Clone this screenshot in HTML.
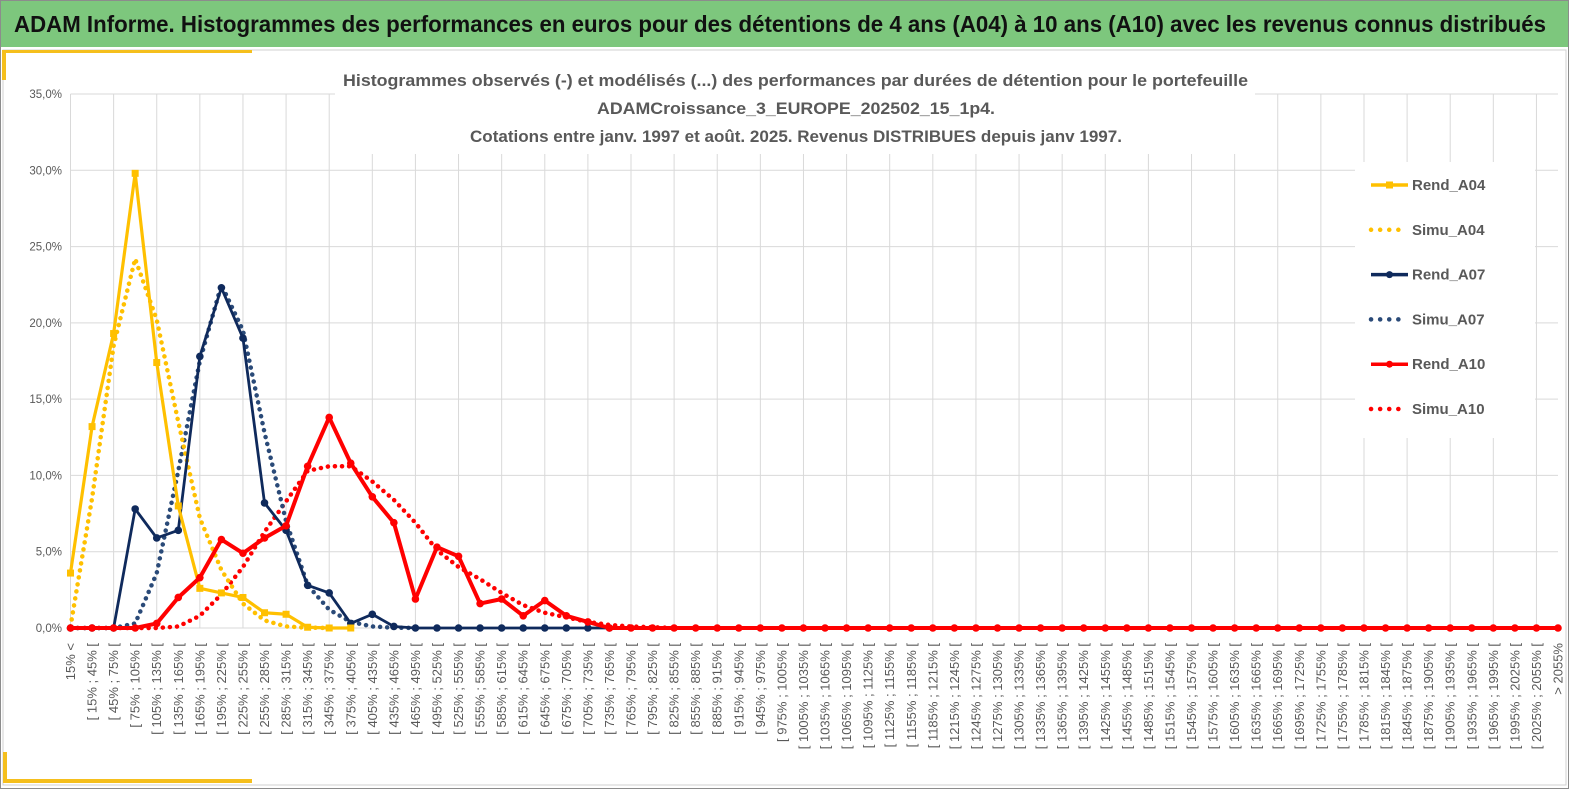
<!DOCTYPE html>
<html><head><meta charset="utf-8">
<style>
html,body{margin:0;padding:0;background:#fff;}
svg{display:block;font-family:"Liberation Sans Narrow","Liberation Sans",sans-serif;}
</style></head>
<body>
<svg id="chart" width="1569" height="789" viewBox="0 0 1569 789" xmlns="http://www.w3.org/2000/svg">
  <rect x="0.5" y="0.5" width="1568" height="788" fill="#fff" stroke="#8c8c8c"/>
  <rect x="1" y="1" width="1567" height="46" fill="#7dc77d"/>
  <text x="14" y="32" font-size="23" font-weight="bold" fill="#111" textLength="1532" lengthAdjust="spacingAndGlyphs">ADAM Informe. Histogrammes des performances en euros pour des détentions de 4 ans (A04) à 10 ans (A10) avec les revenus connus distribués</text>
  <rect x="3" y="50" width="1563" height="735" fill="#fff" stroke="#d0d0d0"/>
  <rect x="5" y="50" width="247" height="3" fill="#f5bf1d"/>
  <rect x="2" y="50" width="4" height="30" fill="#f5bf1d"/>
  <rect x="3" y="752" width="4" height="30" fill="#f5bf1d"/>
  <rect x="3" y="779" width="249" height="4" fill="#f5bf1d"/>
  <g id="grid"></g>
  <g id="ylabels"></g>
  <g id="xlabels"></g>
  <g id="series"></g>
  <g font-size="17" font-weight="bold" fill="#595959" font-family="'Liberation Sans Narrow','Liberation Sans',sans-serif">
    <rect x="335" y="62" width="920" height="92" fill="#fff"/>
    <text x="343" y="86" textLength="905" lengthAdjust="spacingAndGlyphs">Histogrammes observés (-) et modélisés (...) des performances par durées de détention pour le portefeuille</text>
    <text x="597" y="114" textLength="398" lengthAdjust="spacingAndGlyphs">ADAMCroissance_3_EUROPE_202502_15_1p4.</text>
    <text x="470" y="142" textLength="652" lengthAdjust="spacingAndGlyphs">Cotations entre janv. 1997 et août. 2025. Revenus DISTRIBUES depuis janv 1997.</text>
  </g>
  <g id="legend"></g>
</svg>
<script>
const NS="http://www.w3.org/2000/svg";
const categories=["15% <"];
for(let a=15;a<2055;a+=30){categories.push("[ "+a+"% ; "+(a+30)+"% [");}
categories.push("> 2055%");
const yTicks=[0,5,10,15,20,25,30,35];
const rendA04=[3.6,13.2,19.3,29.8,17.4,8.0,2.6,2.3,2.0,1.0,0.9,0.05,0,0];
const simuA04=[0.1,8.5,18.5,24.2,20.2,13.5,7.2,3.8,1.6,0.5,0.1,0.02,0];
const rendA07=[0,0,0,7.8,5.9,6.4,17.8,22.3,19.0,8.2,6.4,2.8,2.3,0.3,0.9,0.1,0,0,0,0,0,0,0,0,0,0];
const simuA07=[0,0,0,0.3,3.6,10.3,17.5,22.5,19.5,12.8,7.0,2.8,1.2,0.4,0.1,0.02,0];
const rendA10=[0,0,0,0,0.3,2.0,3.3,5.8,4.9,5.9,6.7,10.6,13.8,10.8,8.6,6.9,1.9,5.3,4.7,1.6,1.9,0.8,1.8,0.8,0.4,0];
const simuA10=[0,0,0,0,0,0.1,0.8,2.2,4.0,6.3,8.3,10.3,10.6,10.6,9.6,8.4,6.9,5.1,4.0,3.2,2.3,1.5,1.0,0.7,0.4,0.2,0.1,0.05,0];
while(rendA10.length<categories.length)rendA10.push(0);
const X0=70.5,XS=(1558-70.5)/(categories.length-1),Y0=628,YS=(628-94)/35;
const xs=i=>X0+i*XS, ys=v=>Y0-v*YS;
function el(t,a,p){const e=document.createElementNS(NS,t);for(const k in a)e.setAttribute(k,a[k]);p.appendChild(e);return e;}
const grid=document.getElementById('grid');
yTicks.forEach(v=>{
  const l=el('line',{x1:X0,x2:1558,y1:ys(v),y2:ys(v),stroke:'#d9d9d9','stroke-width':1},grid);
  
  
  const t=el('text',{x:62,y:ys(v)+4,'text-anchor':'end','font-size':11.5,fill:'#595959','font-family':'Liberation Sans, sans-serif'},document.getElementById('ylabels'));
  t.textContent=v.toFixed(1).replace('.',',')+'%';
  
  
});
categories.forEach((c,i)=>{
  if(i%2===0){
    const l=el('line',{x1:xs(i),x2:xs(i),y1:ys(35),y2:Y0,stroke:'#d9d9d9','stroke-width':1},grid);
    
    
  }
  const t=el('text',{transform:`translate(${xs(i)+4.5},643) rotate(-90)`,'text-anchor':'end','font-size':13,fill:'#595959','font-family':'Liberation Sans, sans-serif'},document.getElementById('xlabels'));
  t.textContent=c;
  
  
});
const ser=document.getElementById('series');
function line(data,color,w,dotted,marker,name){
  const pts=data.map((v,i)=>xs(i)+','+ys(v)).join(' ');
  const a={points:pts,fill:'none',stroke:color,'stroke-width':w,'stroke-linejoin':'round','stroke-linecap':'round'};
  if(dotted){a['stroke-dasharray']='0.1 7';a['stroke-width']=4.5;}
  const p=el('polyline',a,ser);
  
  
  if(marker){data.forEach((v,i)=>{
    let m;
    if(marker==='sq')m=el('rect',{x:xs(i)-3.5,y:ys(v)-3.5,width:7,height:7,fill:color},ser);
    else m=el('circle',{cx:xs(i),cy:ys(v),r:3.8,fill:color},ser);
    
    
  });}
}
line(simuA10,'#ff0000',4,true,null,'simu-a10');
line(simuA07,'#2a4a78',4,true,null,'simu-a07');
line(simuA04,'#ffc000',4,true,null,'simu-a04');
line(rendA07,'#0f2a5c',2.8,false,'c','rend-a07');
line(rendA04,'#ffc000',3.2,false,'sq','rend-a04');
line(rendA10,'#ff0000',4,false,'c','rend-a10');
const lg=document.getElementById('legend');
el('rect',{x:1355,y:162,width:180,height:276,fill:'#fff'},lg);
const items=[['Rend_A04','#ffc000',false,'sq'],['Simu_A04','#ffc000',true],['Rend_A07','#0f2a5c',false,'c'],['Simu_A07','#2a4a78',true],['Rend_A10','#ff0000',false,'c'],['Simu_A10','#ff0000',true]];
items.forEach((it,k)=>{
  const y=185+k*44.8;
  const g=el('g',{},lg);
  
  
  if(it[2])el('line',{x1:1371,x2:1402,y1:y,y2:y,stroke:it[1],'stroke-width':4.5,'stroke-dasharray':'0.1 9','stroke-linecap':'round'},g);
  else{el('line',{x1:1371,x2:1408,y1:y,y2:y,stroke:it[1],'stroke-width':3.5},g);
    if(it[3]==='sq')el('rect',{x:1386,y:y-3.5,width:7,height:7,fill:it[1]},g);else el('circle',{cx:1389.5,cy:y,r:3.5,fill:it[1]},g);}
  const t=el('text',{x:1412,y:y+5,'font-size':15,'font-weight':'bold',fill:'#595959'},g);
  t.textContent=it[0];
});
</script>
</body></html>
